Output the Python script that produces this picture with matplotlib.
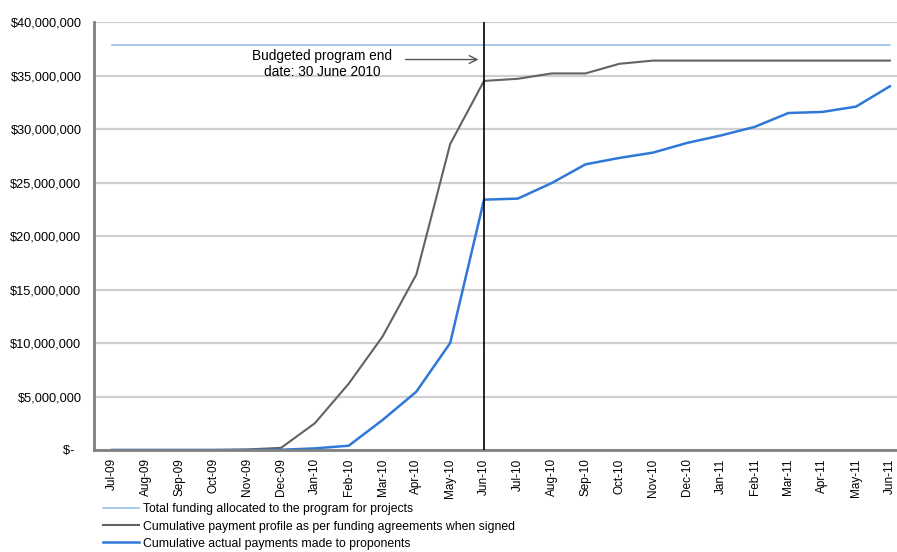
import matplotlib.pyplot as plt
import numpy as np

plt.rcParams["font.family"] = ["Liberation Sans", "DejaVu Sans"]

months = [
    "Jul-09", "Aug-09", "Sep-09", "Oct-09", "Nov-09", "Dec-09",
    "Jan-10", "Feb-10", "Mar-10", "Apr-10", "May-10", "Jun-10",
    "Jul-10", "Aug-10", "Sep-10", "Oct-10", "Nov-10", "Dec-10",
    "Jan-11", "Feb-11", "Mar-11", "Apr-11", "May-11", "Jun-11",
]
total_funding = 37_900_000
profile_signed = [
    0, 0, 0, 0, 50_000, 200_000,
    2_500_000, 6_200_000, 10_600_000, 16_400_000, 28_600_000, 34_500_000,
    34_700_000, 35_200_000, 35_200_000, 36_100_000, 36_400_000, 36_400_000,
    36_400_000, 36_400_000, 36_400_000, 36_400_000, 36_400_000, 36_400_000,
]
actual_payments = [
    0, 0, 0, 0, 0, 20_000,
    150_000, 400_000, 2_800_000, 5_450_000, 10_000_000, 23_400_000,
    23_500_000, 24_950_000, 26_700_000, 27_300_000, 27_800_000, 28_700_000,
    29_400_000, 30_200_000, 31_500_000, 31_600_000, 32_100_000, 34_000_000,
]
end_month = "Jun-10"

x = np.arange(len(months))

fig = plt.figure(figsize=(8.97, 5.52), dpi=100)
ax = fig.add_axes([0.1048, 0.1848, 0.8952, 0.7752])

ax.plot(x, [total_funding] * len(x), color="#8fb9e6", lw=1.1,
        label="Total funding allocated to the program for projects")
ax.plot(x, profile_signed, color="#626262", lw=1.5,
        label="Cumulative payment profile as per funding agreements when signed")
ax.plot(x, actual_payments, color="#2f78d8", lw=1.8,
        label="Cumulative actual payments made to proponents")

end_idx = months.index(end_month)
ax.axvline(end_idx, color="black", lw=1.2, zorder=3)

ax.text(6.21, 36_100_000, "Budgeted program end\ndate: 30 June 2010",
        ha="center", va="center", fontsize=9.8, linespacing=1.15)
ax.annotate("", xy=(end_idx - 0.08, 36_500_000), xytext=(8.6, 36_500_000),
            arrowprops=dict(arrowstyle="->", color="#555555", lw=1.0,
                            mutation_scale=14))

ax.set_xlim(-0.53, 23.21)
ax.set_ylim(0, 40_000_000)
ax.set_yticks(np.arange(0, 40_000_001, 5_000_000))
ax.set_yticklabels(["$-  "] + [f"${v:,.0f}" for v in np.arange(5_000_000, 40_000_001, 5_000_000)])
ax.set_xticks(x)
ax.set_xticklabels(months, rotation=90)
ax.tick_params(axis="y", length=0, pad=9, labelsize=9.2)
ax.tick_params(axis="x", length=0, pad=6, labelsize=8.5)

ax.grid(axis="y", color="#cfcfcf", lw=1.6)
ax.set_axisbelow(True)
for side in ["top", "right"]:
    ax.spines[side].set_visible(False)
for side in ["left", "bottom"]:
    ax.spines[side].set_color("#808080")
    ax.spines[side].set_linewidth(2.0)

fig.legend(loc="upper left", bbox_to_anchor=(0.115, 0.088), frameon=False,
           fontsize=8.8, handlelength=2.9, handletextpad=0.35,
           labelspacing=0.42, borderpad=0, borderaxespad=0)

fig.savefig("out.png", dpi=100)
